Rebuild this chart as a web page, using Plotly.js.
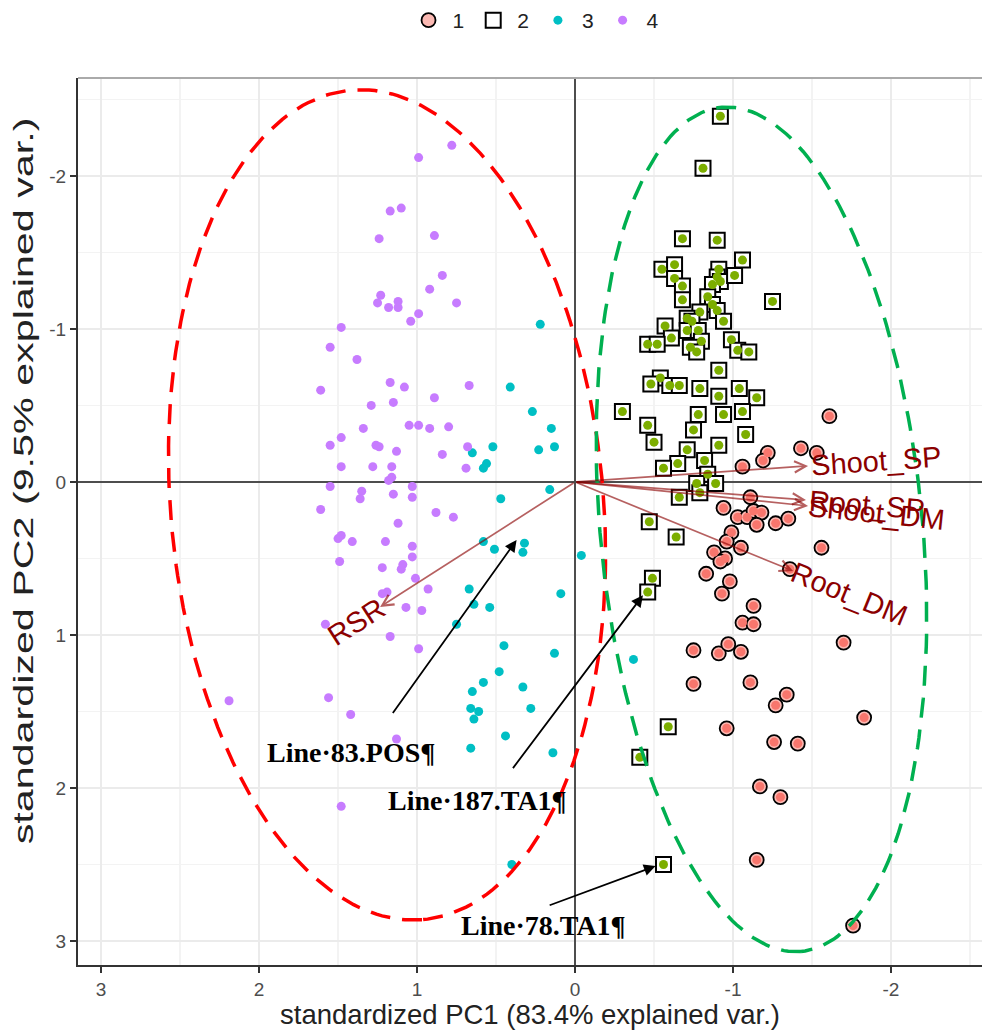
<!DOCTYPE html>
<html><head><meta charset="utf-8">
<script src="https://cdn.plot.ly/plotly-3.0.1.min.js"></script>
<style>html,body{margin:0;padding:0;background:#fff}#chart{width:982px;height:1030px}</style>
</head><body><div id="chart"></div>
<script>
// ---------------- data ----------------
const groupNames = ['1', '2', '3', '4'];
const groupColors = ['#F8766D', '#7CAE00', '#00BFC4', '#C77CFF'];

const g1x = [-1.61,-1.43,-1.53,-1.22,-1.19,-1.06,-1.11,-0.94,-1.03,-1.09,-1.13,-1.18,-1.15,-1.27,-1.35,-0.99,-0.96,-1.05,-1.56,-0.88,-0.95,-0.92,-0.83,-1.36,-0.98,-0.93,-1.13,-1.06,-1.13,-1.70,-0.75,-0.91,-0.97,-1.05,-0.75,-1.11,-1.34,-1.27,-1.83,-0.96,-1.26,-1.41,-1.17,-1.30,-1.15,-1.76];
const g1y = [-0.43,-0.22,-0.19,-0.19,-0.14,-0.10,0.10,0.17,0.23,0.23,0.19,0.20,0.28,0.27,0.24,0.33,0.39,0.43,0.43,0.46,0.50,0.52,0.60,0.57,0.65,0.73,0.81,0.92,0.93,1.05,1.10,1.12,1.06,1.11,1.32,1.31,1.39,1.46,1.54,1.61,1.70,1.71,1.99,2.06,2.47,2.90];

const g2x = [-0.92,-0.81,-0.68,-0.90,-1.06,-0.55,-0.63,-0.63,-0.68,-0.68,
             -0.91,-0.90,-0.92,-0.87,-1.01,-1.25,-0.84,-0.87,-0.90,-0.79,
             -0.71,-0.74,-0.94,-0.57,-0.71,-0.78,-0.61,-0.80,-0.99,-0.46,
             -0.52,-0.73,-0.77,-1.03,-1.10,-0.91,-0.54,-0.48,-0.60,-0.66,
             -0.79,-0.91,-1.04,-1.15,-0.30,-0.78,-0.94,-1.06,-0.46,-0.75,
             -1.08,-0.50,-0.91,-0.71,-0.82,-0.65,-0.56,-0.84,-0.77,-0.89,
             -0.79,-0.66,-0.47,-0.64,-0.49,-0.46,-0.59,-0.41,-0.56];
const g2y = [-2.39,-2.05,-1.59,-1.58,-1.45,-1.39,-1.42,-1.33,-1.28,-1.19,
             -1.39,-1.34,-1.31,-1.29,-1.35,-1.18,-1.21,-1.16,-1.12,-1.11,
             -1.07,-1.05,-1.05,-1.02,-0.99,-0.99,-0.94,-0.92,-0.93,-0.90,
             -0.90,-0.88,-0.85,-0.86,-0.85,-0.73,-0.68,-0.64,-0.63,-0.63,
             -0.61,-0.56,-0.61,-0.55,-0.46,-0.44,-0.44,-0.46,-0.37,-0.34,
             -0.31,-0.26,-0.24,-0.21,-0.14,-0.12,-0.09,-0.05,0.01,0.01,
             0.07,0.10,0.26,0.36,0.63,0.72,1.60,1.80,2.50];

const g3x = [0.22,0.41,0.27,0.15,0.13,0.23,0.52,0.65,0.56,0.58,
             0.16,0.47,0.58,0.51,0.32,0.33,-0.04,0.67,0.09,0.64,
             0.54,0.75,0.45,0.13,0.48,0.58,0.65,0.33,0.66,0.61,
             0.28,0.64,0.44,0.66,0.14,0.40,-0.37];
const g3y = [-1.03,-0.62,-0.46,-0.35,-0.23,-0.21,-0.23,-0.19,-0.12,-0.09,
             0.05,0.11,0.39,0.44,0.40,0.46,0.48,0.70,0.73,0.80,
             0.82,0.93,1.07,1.12,1.24,1.31,1.37,1.34,1.48,1.50,
             1.48,1.55,1.66,1.74,1.77,2.50,1.16];

const g4x = [0.99,0.78,1.17,1.10,1.24,0.89,0.84,0.92,1.23,1.25,
             1.18,1.12,1.12,0.99,1.04,1.48,1.55,1.38,1.17,1.08,
             1.61,1.29,1.15,0.89,0.75,0.67,1.05,0.99,0.92,0.80,
             0.68,0.84,0.69,1.03,1.03,0.88,0.77,1.03,1.03,1.09,
             1.01,0.93,1.34,1.48,1.55,1.26,1.24,1.13,1.48,1.28,
             1.16,1.16,1.18,1.55,1.35,1.36,1.15,1.61,1.12,1.48,
             1.50,1.41,1.20,1.49,1.22,1.10,1.19,1.22,1.07,0.97,
             1.58,1.17,0.99,2.19,1.56,1.42,1.13,1.48];
const g4y = [-2.12,-2.20,-1.77,-1.79,-1.59,-1.61,-1.35,-1.26,-1.22,-1.17,
             -1.14,-1.18,-1.14,-1.10,-1.05,-1.01,-0.88,-0.80,-0.65,-0.62,
             -0.60,-0.50,-0.52,-0.55,-1.17,-0.63,-0.37,-0.37,-0.35,-0.36,
             -0.23,-0.18,-0.09,0.03,0.10,0.20,0.23,0.42,0.49,0.54,
             0.63,0.70,-0.35,-0.29,-0.24,-0.24,-0.23,-0.20,-0.10,-0.10,
             -0.10,-0.03,-0.01,0.03,0.06,0.11,0.08,0.18,0.27,0.35,
             0.37,0.39,0.39,0.52,0.56,0.57,0.72,0.73,0.82,0.84,
             0.93,1.01,1.09,1.43,1.41,1.52,1.68,2.12];

// variable loadings (arrows from origin)
const loadNames = ['Shoot_SP', 'Root_SP', 'Shoot_DM', 'Root_DM', 'RSR'];
const loadX = [-1.475, -1.462, -1.475, -1.380, 1.234];
const loadY = [-0.105, 0.118, 0.157, 0.582, 0.817];

// hand-drawn group ellipses: centre, semi-axes, tilt of major axis (deg)
const ellCx = [1.19, -1.18];
const ellCy = [0.15, 0.31];
const ellA = [2.72, 2.77];
const ellB = [1.37, 1.02];
const ellTilt = [4.67, 5.18];
const ellColors = ['#FF0000', '#00B050'];

// call-outs
const calloutText = ['Line·83.POS¶', 'Line·187.TA1¶', 'Line·78.TA1¶'];
const calloutHeadX = [0.37, -0.43, -0.51];
const calloutHeadY = [0.38, 0.74, 2.51];
const calloutTailX = [1.16, 0.40, 0.17];
const calloutTailY = [1.52, 1.88, 2.77];
const calloutLabelX = [1.42, 0.62, 0.20];
const calloutLabelY = [1.77, 2.08, 2.90];

const xTickVals = [3, 2, 1, 0, -1, -2];
const xTickText = ['3', '2', '1', '0', '-1', '-2'];
const yTickVals = [-2, -1, 0, 1, 2, 3];
const yTickText = ['-2', '-1', '0', '1', '2', '3'];
const xRange = [3.146, -2.576];
const yRange = [3.157, -2.64];

// ---------------- traces ----------------
const traces = [];
traces.push({x: g1x, y: g1y, type: 'scatter', mode: 'markers', name: groupNames[0],
  marker: {symbol: 'circle', size: 14, color: '#FBB9B3', line: {color: '#000', width: 1.8}}});
traces.push({x: g1x, y: g1y, type: 'scatter', mode: 'markers', name: groupNames[0], showlegend: false,
  marker: {symbol: 'circle', size: 9, color: groupColors[0]}});
traces.push({x: g2x, y: g2y, type: 'scatter', mode: 'markers', name: groupNames[1],
  marker: {symbol: 'square', size: 15, color: '#FFFFFF', line: {color: '#000', width: 2}}});
traces.push({x: g2x, y: g2y, type: 'scatter', mode: 'markers', name: groupNames[1], showlegend: false,
  marker: {symbol: 'circle', size: 9, color: groupColors[1]}});
traces.push({x: g3x, y: g3y, type: 'scatter', mode: 'markers', name: groupNames[2],
  marker: {symbol: 'circle', size: 9, color: groupColors[2]}});
traces.push({x: g4x, y: g4y, type: 'scatter', mode: 'markers', name: groupNames[3],
  marker: {symbol: 'circle', size: 9, color: groupColors[3]}});

for (let k = 0; k < ellCx.length; k++) {
  const ex = [], ey = [];
  const a = ellTilt[k] * Math.PI / 180;
  const ux = -Math.sin(a), uy = Math.cos(a);   // major-axis direction
  const vx = Math.cos(a), vy = Math.sin(a);    // minor-axis direction
  for (let i = 0; i <= 240; i++) {
    const t = 2 * Math.PI * i / 240;
    ex.push(ellCx[k] + ellA[k] * Math.cos(t) * ux + ellB[k] * Math.sin(t) * vx);
    ey.push(ellCy[k] + ellA[k] * Math.cos(t) * uy + ellB[k] * Math.sin(t) * vy);
  }
  traces.push({x: ex, y: ey, type: 'scatter', mode: 'lines', showlegend: false, hoverinfo: 'skip',
    line: {color: ellColors[k], width: 3.5, dash: '20px,12px'}});
}

// ---------------- annotations ----------------
const M = {l: 78, r: 0, t: 78, b: 65};
const W = 982, H = 1030;
const kx = (W - M.l - M.r) / Math.abs(xRange[0] - xRange[1]);
const ky = (H - M.t - M.b) / Math.abs(yRange[0] - yRange[1]);
const annotations = [];
const labelSize = 29;
loadNames.forEach((n, i) => {
  annotations.push({x: loadX[i], y: loadY[i], ax: 0, ay: 0, xref: 'x', yref: 'y', axref: 'x', ayref: 'y',
    text: '', showarrow: true, arrowhead: 5, arrowsize: 1.3, arrowwidth: 1.7,
    arrowcolor: 'rgba(139,0,0,0.62)', standoff: 0});
});
loadNames.forEach((n, i) => {
  const sx = -loadX[i] * kx, sy = loadY[i] * ky;
  const len = Math.hypot(sx, sy);
  const ux = sx / len, uy = sy / len;
  let ang = Math.atan2(sy, sx) * 180 / Math.PI;
  if (ang > 90) ang -= 180;
  if (ang < -90) ang += 180;
  const half = n.length * labelSize * 0.28 + 4;
  annotations.push({x: loadX[i], y: loadY[i], xref: 'x', yref: 'y', text: n, showarrow: false,
    textangle: ang, xanchor: 'center', yanchor: 'middle', xshift: ux * half, yshift: -uy * half,
    font: {family: 'Liberation Sans, Arial, sans-serif', size: labelSize, color: '#8B0000'}});
});
calloutText.forEach((t, i) => {
  annotations.push({x: calloutHeadX[i], y: calloutHeadY[i], ax: calloutTailX[i], ay: calloutTailY[i],
    xref: 'x', yref: 'y', axref: 'x', ayref: 'y', text: '', showarrow: true,
    arrowhead: 2, arrowsize: 1.3, arrowwidth: 1.8, arrowcolor: '#000', standoff: 0});
  annotations.push({x: calloutLabelX[i], y: calloutLabelY[i], xref: 'x', yref: 'y', text: '<b>' + t + '</b>',
    showarrow: false, xanchor: 'center', yanchor: 'middle',
    font: {family: 'Liberation Serif, Times New Roman, serif', size: 28, color: '#000'}});
});

const axisCommon = {
  showgrid: true, gridcolor: '#EBEBEB', gridwidth: 2,
  minor: {tickmode: 'linear', tick0: 0.5, dtick: 1, showgrid: true, gridcolor: '#F3F3F3', gridwidth: 1.5, ticks: ''},
  zeroline: true, zerolinecolor: '#4D4D4D', zerolinewidth: 2,
  showline: true, linecolor: '#333333', linewidth: 2,
  ticks: 'outside', ticklen: 6, tickwidth: 2, tickcolor: '#333333',
  tickfont: {size: 19, color: '#4D4D4D', family: 'Liberation Sans, Arial, sans-serif'},
  tickmode: 'array', autorange: false
};

const layout = {
  width: W, height: H, margin: M,
  paper_bgcolor: '#FFFFFF', plot_bgcolor: '#FFFFFF',
  font: {family: 'Liberation Sans, Arial, sans-serif', color: '#222'},
  showlegend: true,
  legend: {orientation: 'h', x: 0.505, xanchor: 'center', y: 1 + 58 / (H - M.t - M.b), yanchor: 'middle',
    itemwidth: 38, font: {size: 21, color: '#222'}, bgcolor: 'rgba(0,0,0,0)'},
  xaxis: Object.assign({}, axisCommon, {range: xRange, tickvals: xTickVals, ticktext: xTickText,
    title: {text: 'standardized PC1 (83.4% explained var.)', font: {size: 27.5, color: '#222'}, standoff: 4}}),
  yaxis: Object.assign({}, axisCommon, {range: yRange, tickvals: yTickVals, ticktext: yTickText,
    title: {text: 'standardized PC2 (9.5% explained var.)', font: {size: 27.5, color: '#222'}, standoff: 8}}),
  shapes: [{type: 'line', xref: 'paper', yref: 'paper', x0: 0, x1: 1, y0: 1, y1: 1,
    line: {color: '#AAAAAA', width: 2}}],
  annotations: annotations
};

Plotly.newPlot('chart', traces, layout, {displayModeBar: false, staticPlot: true}).then(gd => {
  // the reference's y-axis title is drawn stretched along its length
  const g = gd.querySelector('.g-ytitle');
  if (g) {
    const bb = g.getBBox();
    const cx = bb.x + bb.width / 2, cy = 481;
    const s = 727 / bb.height;
    const ccy = bb.y + bb.height / 2;
    g.setAttribute('transform', `translate(${cx},${cy}) scale(1,${s}) translate(${-cx},${-ccy})`);
  }
});
</script></body></html>
